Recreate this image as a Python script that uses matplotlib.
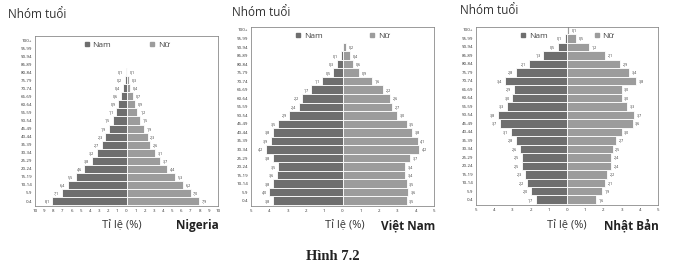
import matplotlib
matplotlib.use('Agg')
import matplotlib.pyplot as plt
from matplotlib.lines import Line2D
import numpy as np

# Age groups, bottom to top
ages = ["0-4", "5-9", "10-14", "15-19", "20-24", "25-29", "30-34", "35-39",
        "40-44", "45-49", "50-54", "55-59", "60-64", "65-69", "70-74",
        "75-79", "80-84", "85-89", "90-94", "95-99", "100+"]

# Nigeria (%)
ng_male = [8.1, 7.1, 6.4, 5.5, 4.6, 3.8, 3.2, 2.7, 2.3, 1.9, 1.5, 1.1, 0.9,
           0.6, 0.4, 0.2, 0.1, 0, 0, 0, 0]
ng_female = [7.9, 7.0, 6.2, 5.3, 4.4, 3.7, 3.1, 2.6, 2.3, 1.9, 1.5, 1.2, 0.9,
             0.7, 0.4, 0.3, 0.1, 0, 0, 0, 0]

# Viet Nam (%)
vn_male = [3.8, 4.0, 3.8, 3.6, 3.5, 3.8, 4.2, 3.9, 3.8, 3.5, 2.9, 2.4, 2.2,
           1.7, 1.1, 0.5, 0.3, 0.1, 0, 0, 0]
vn_female = [3.5, 3.6, 3.5, 3.4, 3.4, 3.7, 4.2, 4.1, 3.8, 3.5, 3.0, 2.7, 2.6,
             2.2, 1.6, 0.9, 0.6, 0.4, 0.2, 0, 0]

# Japan (%)
jp_male = [1.7, 2.0, 2.2, 2.3, 2.5, 2.5, 2.6, 2.8, 3.1, 3.7, 3.8, 3.3, 3.0,
           2.9, 3.4, 2.8, 2.1, 1.3, 0.5, 0.1, 0]
jp_female = [1.6, 1.9, 2.1, 2.2, 2.4, 2.4, 2.5, 2.7, 3.0, 3.6, 3.7, 3.3, 3.0,
             3.0, 3.8, 3.4, 2.9, 2.1, 1.2, 0.5, 0.1]

c_male = '#6e6e6e'
c_female = '#9c9c9c'

plt.rcParams['font.family'] = ['Open Sans', 'DejaVu Sans']

fig = plt.figure(figsize=(7, 2.66), dpi=100)
W, H = 700, 266


def px_axes(x0, y0, x1, y1):
    return fig.add_axes([x0 / W, 1 - y1 / H, (x1 - x0) / W, (y1 - y0) / H])


def fmt(v):
    return ('%.1f' % v).replace('.', ',')


def pyramid(ax, male, female, xmax, ytop, name, title_xy, label_cx, colsp):
    y = np.arange(len(ages))
    ax.barh(y, [-m for m in male], height=1.0, color=c_male,
            edgecolor='white', linewidth=0.6)
    ax.barh(y, female, height=1.0, color=c_female,
            edgecolor='white', linewidth=0.6)
    off = xmax * 0.03
    for i, (m, f) in enumerate(zip(male, female)):
        if m > 0:
            ax.text(-m - off, i, fmt(m), ha='right', va='center',
                    fontsize=2.6, color='#333333')
        if f > 0:
            ax.text(f + off, i, fmt(f), ha='left', va='center',
                    fontsize=2.6, color='#333333')
    ax.set_xlim(-xmax, xmax)
    ax.set_ylim(-0.62, ytop)
    ticks = np.arange(-xmax, xmax + 1)
    ax.set_xticks(ticks)
    ax.set_xticklabels([str(abs(t)) for t in ticks])
    ax.set_yticks(y)
    ax.set_yticklabels(ages)
    ax.tick_params(axis='both', labelsize=3.2, length=0, pad=2,
                   colors='#333333')
    for s in ax.spines.values():
        s.set_color('#8a8a8a')
        s.set_linewidth(0.6)
    handles = [Line2D([], [], marker='s', ls='', color=c_male, markersize=2.2),
               Line2D([], [], marker='s', ls='', color=c_female, markersize=2.2)]
    ax.legend(handles, ['Nam', 'Nữ'], loc='upper center', ncol=2,
              frameon=False, fontsize=6, columnspacing=colsp,
              handletextpad=0.3, handlelength=0.8, borderaxespad=0.2,
              labelcolor='#444444')
    fig.text(title_xy[0] / W, 1 - title_xy[1] / H, 'Nhóm tuổi', fontsize=8.5,
             color='#333333', va='center', ha='left')
    pos = ax.get_position()
    fig.text(label_cx / W, 1 - 226 / H, 'Tỉ lệ (%)', fontsize=8,
             color='#333333', va='center', ha='center')
    fig.text(pos.x1 + 1 / W, 1 - 226 / H, name, fontsize=8.5,
             fontweight='bold', color='#222222', va='center', ha='right')


ax1 = px_axes(35, 36, 218, 206)
pyramid(ax1, ng_male, ng_female, 10, 20.5, 'Nigeria', (8, 15), 122, 4.5)

ax2 = px_axes(251, 27, 434, 206)
pyramid(ax2, vn_male, vn_female, 5, 20.35, 'Việt Nam', (232, 12), 345, 5.5)

ax3 = px_axes(476, 27, 658, 205)
pyramid(ax3, jp_male, jp_female, 5, 20.35, 'Nhật Bản', (460, 11), 567, 5.5)

fig.text(333 / W, 1 - 257 / H, 'Hình 7.2', fontsize=10.5, fontweight='bold',
         family='Liberation Serif', ha='center', va='center', color='#222222')

fig.savefig('out.png', dpi=100, facecolor='white')
